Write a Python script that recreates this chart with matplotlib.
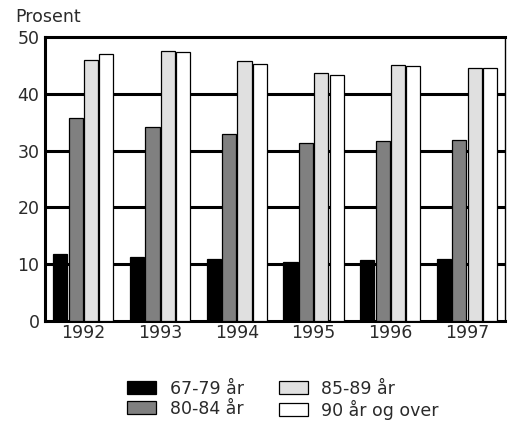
import matplotlib
matplotlib.use("Agg")
import matplotlib.pyplot as plt
from matplotlib.patches import Patch
import numpy as np

years = ["1992", "1993", "1994", "1995", "1996", "1997"]
series_names = ["67-79 år", "80-84 år", "85-89 år", "90 år og over"]
s_67_79 = [11.8, 11.3, 11.0, 10.4, 10.8, 11.0]
s_80_84 = [35.7, 34.1, 33.0, 31.3, 31.7, 31.9]
s_85_89 = [45.9, 47.5, 45.7, 43.6, 45.0, 44.6]
s_90 = [47.0, 47.3, 45.2, 43.3, 44.9, 44.6]
colors = ["#000000", "#808080", "#e0e0e0", "#ffffff"]

plt.rcParams['font.family'] = ['DejaVu Sans']
FS = 12.5
TXT = "#2a2a2a"

fig = plt.figure(figsize=(5.09, 4.26), dpi=100)
ax = fig.add_axes([0.0884, 0.2465, 0.9046, 0.6665])

x = np.arange(len(years))
bw = 0.185
offsets = [-1.5 * 0.2, -0.5 * 0.2, 0.5 * 0.2, 1.5 * 0.2]
for vals, c, off in zip([s_67_79, s_80_84, s_85_89, s_90], colors, offsets):
    ax.bar(x + off, vals, width=bw, color=c, edgecolor="black", linewidth=0.9, zorder=3)

ax.set_xlim(-0.5, 5.5)
ax.set_ylim(0, 50)
ax.set_yticks([0, 10, 20, 30, 40, 50])
ax.set_xticks(x)
ax.set_xticklabels(years)
ax.tick_params(axis='both', length=0, labelsize=FS, colors=TXT)
ax.tick_params(axis='y', pad=4)
ax.tick_params(axis='x', pad=2.5)
for yv in [10, 20, 30, 40]:
    ax.axhline(yv, color="black", linewidth=2.2, zorder=1)
for side in ["top", "left", "bottom"]:
    ax.spines[side].set_linewidth(2.2)
ax.spines["right"].set_linewidth(1.0)

fig.text(15 / 509, 0.948, "Prosent", fontsize=FS, color=TXT, ha="left", va="baseline")

handles = [Patch(facecolor=c, edgecolor="black", linewidth=0.9) for c in colors]
leg = fig.legend(handles, series_names, ncol=2, frameon=False, loc="center",
                 bbox_to_anchor=(0.556, 0.062), fontsize=FS, handlelength=1.67,
                 handleheight=0.73, columnspacing=2.0, labelspacing=0.12,
                 handletextpad=0.8, borderpad=0)
for t in leg.get_texts():
    t.set_color(TXT)

fig.savefig("out.png", dpi=100)
